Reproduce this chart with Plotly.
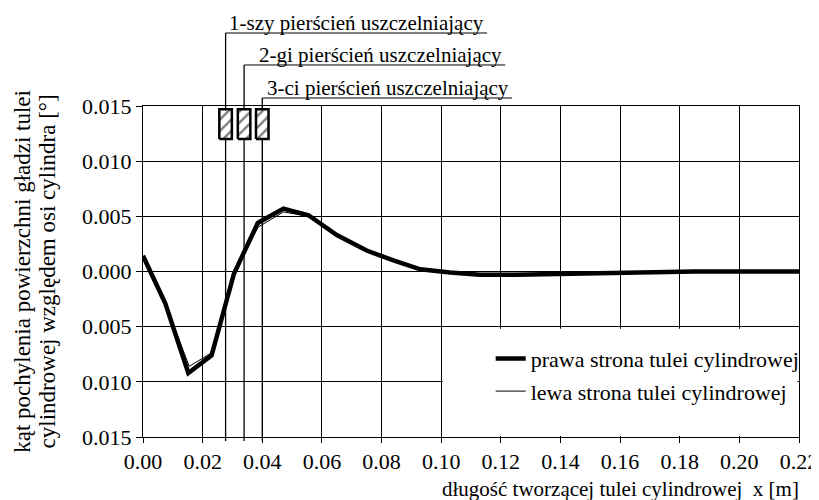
import plotly.graph_objects as go

# ---------------- data ----------------
x_prawa = [0.000, 0.0075, 0.0152, 0.0230, 0.0305, 0.0385, 0.0471, 0.0555, 0.065, 0.075,
           0.084, 0.093, 0.103, 0.113, 0.125, 0.140, 0.155, 0.170, 0.185, 0.200, 0.220]
y_prawa = [0.00142, -0.0029, -0.0092, -0.0076, -0.0002, 0.0044, 0.0057, 0.0051, 0.0033, 0.0019,
           0.0010, 0.0002, -0.0001, -0.0003, -0.0003, -0.0002, -0.0001, 0.0, 0.0, 0.0, 0.0]

x_lewa = [0.000, 0.0075, 0.0155, 0.0228, 0.0305, 0.0385, 0.0471, 0.0555, 0.065, 0.075,
          0.084, 0.093, 0.103, 0.113, 0.125, 0.140, 0.155, 0.170, 0.185, 0.200, 0.220]
y_lewa = [0.00142, -0.0029, -0.0086, -0.0074, -0.0003, 0.0040, 0.0054, 0.0050, 0.0033, 0.0019,
          0.0010, 0.0002, -0.0001, -0.0003, -0.0003, -0.0002, -0.0001, 0.0, 0.0, 0.0, 0.0]

ring_x = [0.0277, 0.0339, 0.0400]
ring_labels = ["1-szy pierścień uszczelniający",
               "2-gi pierścień uszczelniający",
               "3-ci pierścień uszczelniający"]

x_tickvals = [0.00, 0.02, 0.04, 0.06, 0.08, 0.10, 0.12, 0.14, 0.16, 0.18, 0.20, 0.22]
x_ticktext = ["0.00", "0.02", "0.04", "0.06", "0.08", "0.10", "0.12", "0.14", "0.16", "0.18", "0.20", "0.22"]
y_tickvals = [-0.015, -0.010, -0.005, 0.000, 0.005, 0.010, 0.015]
y_ticktext = ["0.015", "0.010", "0.005", "0.000", "0.005", "0.010", "0.015"]

legend_names = ["prawa strona tulei cylindrowej", "lewa strona tulei cylindrowej"]
x_title = "długość tworzącej tulei cylindrowej\u00a0\u00a0x [m]"
y_title_lines = ["kąt pochylenia powierzchni gładzi tulei",
                 "cylindrowej względem osi cylindra [°]"]

# ---------------- style ----------------
FONT = "Liberation Serif"
FS = 21
FS_TICK = 22
FS_YT = 23
box_half_w = 0.0021
box_y0, box_y1 = 0.0120, 0.0147
leader_levels = [1.2205, 1.1239, 1.0242]
leader_ends = [0.1154, 0.1215, 0.1238]
ytitle_x = [-0.184, -0.145]

fig = go.Figure()

fig.add_trace(go.Scatter(x=x_prawa, y=y_prawa, mode="lines", name=legend_names[0],
                         line=dict(color="black", width=4.5), legendgroup="a"))
fig.add_trace(go.Scatter(x=x_lewa, y=y_lewa, mode="lines", name=legend_names[1],
                         line=dict(color="black", width=1), legendgroup="b"))

shapes = []
annotations = []
for i, rx in enumerate(ring_x):
    fig.add_trace(go.Scatter(
        x=[rx - box_half_w, rx + box_half_w, rx + box_half_w, rx - box_half_w, rx - box_half_w],
        y=[box_y0, box_y0, box_y1, box_y1, box_y0],
        mode="lines", fill="toself", fillcolor="white",
        fillpattern=dict(shape="/", size=8, solidity=0.3, fgcolor="black", bgcolor="white"),
        line=dict(color="black", width=2.5), showlegend=False, hoverinfo="skip"))
    shapes.append(dict(type="line", xref="x", yref="paper", x0=rx, x1=rx,
                       y0=-0.012, y1=leader_levels[i], layer="between",
                       line=dict(color="black", width=1.3)))
    shapes.append(dict(type="line", xref="x", yref="paper", x0=rx, x1=leader_ends[i],
                       y0=leader_levels[i], y1=leader_levels[i],
                       line=dict(color="black", width=1)))
    annotations.append(dict(text=ring_labels[i], x=leader_ends[i], y=leader_levels[i],
                            xref="x", yref="paper", xanchor="right", yanchor="bottom",
                            showarrow=False, xshift=-1, yshift=-4,
                            font=dict(family=FONT, size=FS, color="black")))

shapes.append(dict(type="rect", xref="x", yref="y", x0=0.1005, x1=0.2195, y0=-0.0149, y1=-0.0052,
                   fillcolor="white", line=dict(width=0), layer="between"))

annotations.append(dict(text=x_title, xref="paper", yref="paper", x=1.0, y=0,
                        xanchor="right", yanchor="top", yshift=-38, xshift=2, showarrow=False,
                        font=dict(family=FONT, size=FS, color="black")))
for i, line in enumerate(y_title_lines):
    annotations.append(dict(text=line, xref="paper", yref="paper", x=ytitle_x[i], y=0.5,
                            xanchor="center", yanchor="middle", textangle=-90, showarrow=False,
                            font=dict(family=FONT, size=FS_YT, color="black")))

# page body has an 8px margin, so the figure is 8px smaller and margins reduced by 8
fig.update_layout(
    width=811, height=492, autosize=False,
    margin=dict(l=135, r=20, t=98, b=63, autoexpand=False),
    paper_bgcolor="white", plot_bgcolor="white",
    font=dict(family=FONT, size=FS, color="black"),
    showlegend=True,
    legend=dict(x=0.530, y=0.30, xanchor="left", yanchor="top", bgcolor="rgba(0,0,0,0)",
                tracegroupgap=1, font=dict(family=FONT, size=FS_TICK, color="black")),
    shapes=shapes, annotations=annotations,
    xaxis=dict(range=[0, 0.22], tickvals=x_tickvals, ticktext=x_ticktext,
               showgrid=True, gridcolor="black", gridwidth=1, zeroline=False,
               showline=True, linecolor="black", linewidth=1, mirror=True,
               ticks="outside", ticklen=5, tickcolor="black",
               tickfont=dict(family=FONT, size=FS_TICK, color="black")),
    yaxis=dict(range=[-0.015, 0.015], tickvals=y_tickvals, ticktext=y_ticktext,
               showgrid=True, gridcolor="black", gridwidth=1, zeroline=False,
               showline=True, linecolor="black", linewidth=1, mirror=True,
               ticks="outside", ticklen=6, tickcolor="black",
               tickfont=dict(family=FONT, size=FS_TICK, color="black")),
)

fig.write_html("out.html")
